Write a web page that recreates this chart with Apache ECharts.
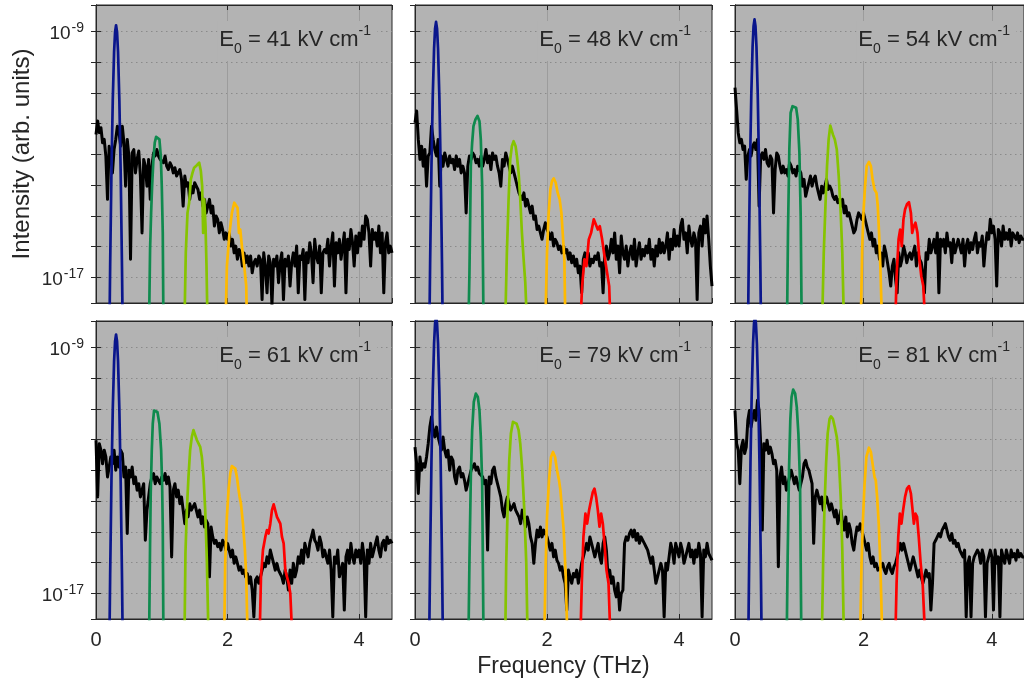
<!DOCTYPE html>
<html>
<head>
<meta charset="utf-8">
<script src="https://cdn.jsdelivr.net/npm/echarts@6/dist/echarts.min.js"></script>
<style>html,body{margin:0;padding:0;background:#fff}#chart{width:1024px;height:690px}</style>
</head>
<body>
<div id="chart"></div>
<script>
// ---------------- data (intensities stored as log10 values) ----------------
const FIELD_LABELS = ['41', '48', '54', '61', '79', '81'];
const X_TICKS = [0, 2, 4];
const Y_TICK_EXPONENTS = [-9, -17];
const FREQ_STEP = 0.025;           // THz, black spectra sampled from 0 to 4.5 THz
const LOG_MIN = -17.83, LOG_MAX = -8.14;

const BLACK_41 = [
-12.35,-11.91,-12.29,-12.13,-12.62,-12.51,-13.06,-14.46,-12.73,-13.06,
-13.6,-12.84,-12.51,-12.08,-12.3,-12.73,-12.08,-12.62,-14.03,-12.51,
-13.05,-16.41,-12.95,-12.84,-13.6,-13.16,-12.89,-13.7,-15.55,-13.16,
-13.38,-14.03,-13.16,-14.46,-13.38,-12.95,-13.05,-12.84,-13.05,-13.16,
-13.16,-13.27,-13.05,-13.38,-13.49,-13.27,-13.38,-13.6,-13.43,-13.7,
-13.6,-13.49,-13.81,-14.68,-13.7,-14.03,-13.92,-14.46,-14.03,-14.25,
-13.92,-14.03,-14.14,-14.46,-14.25,-14.68,-14.46,-14.9,-14.68,-14.46,
-14.9,-14.68,-15.33,-15.0,-15.11,-15.55,-15.22,-15.44,-15.76,-15.55,
-15.76,-15.55,-15.98,-15.76,-16.2,-15.98,-16.41,-16.09,-16.2,-16.63,
-16.2,-16.52,-16.3,-16.63,-16.3,-16.85,-16.52,-16.41,-16.63,-16.3,
-16.41,-17.72,-16.2,-16.63,-17.5,-16.3,-16.52,-17.9,-16.41,-16.63,
-16.3,-17.17,-16.52,-16.2,-17.72,-16.41,-16.63,-16.3,-17.28,-16.52,
-16.2,-16.63,-15.98,-17.5,-16.3,-16.41,-16.09,-17.72,-16.2,-16.52,
-15.87,-16.2,-17.17,-15.76,-16.3,-16.52,-15.98,-17.5,-16.2,-16.09,
-16.2,-15.76,-16.63,-15.98,-15.55,-17.28,-15.87,-16.2,-15.76,-16.41,
-15.98,-15.55,-17.5,-15.76,-16.09,-15.44,-15.87,-16.63,-15.65,-16.2,
-15.55,-15.98,-15.33,-15.76,-15.0,-15.11,-15.55,-16.63,-15.44,-15.76,
-15.55,-15.98,-15.33,-16.2,-15.55,-17.5,-15.87,-15.55,-16.2,-15.98,
-16.2];
const BLACK_48 = [
-11.97,-11.59,-12.51,-13.16,-12.73,-13.38,-12.84,-14.03,-13.05,-12.95,
-12.08,-12.51,-12.84,-13.05,-12.51,-14.03,-13.05,-13.38,-12.95,-13.16,
-13.38,-13.05,-13.27,-13.16,-13.49,-13.05,-13.38,-13.16,-13.6,-13.38,
-13.6,-14.9,-13.38,-13.05,-13.16,-12.95,-13.05,-13.27,-13.16,-13.38,
-13.05,-13.38,-13.16,-12.84,-13.27,-13.05,-13.49,-12.95,-13.16,-13.05,
-13.38,-13.6,-14.03,-13.16,-13.38,-12.95,-13.16,-13.38,-13.6,-13.38,
-13.6,-13.81,-14.03,-14.25,-14.36,-14.46,-14.25,-14.68,-14.46,-14.68,
-14.9,-14.68,-15.11,-15.0,-15.44,-15.33,-15.55,-15.76,-15.44,-15.22,
-15.44,-15.55,-15.76,-15.55,-15.98,-15.76,-15.87,-16.09,-15.98,-16.2,
-15.98,-16.2,-16.09,-16.41,-16.2,-16.52,-16.3,-16.63,-16.41,-16.85,
-16.63,-17.5,-16.41,-16.2,-16.52,-16.2,-16.63,-16.41,-16.52,-16.3,
-16.41,-16.2,-16.63,-16.52,-17.5,-16.2,-15.98,-16.41,-16.2,-15.76,
-16.2,-15.55,-16.41,-15.98,-16.85,-15.65,-16.2,-16.41,-15.98,-16.63,
-16.2,-15.98,-16.41,-15.76,-16.63,-16.2,-15.87,-16.41,-16.09,-16.3,
-15.98,-16.2,-15.76,-16.41,-16.09,-16.63,-15.98,-16.3,-15.76,-16.2,
-15.87,-16.2,-15.98,-15.55,-16.41,-15.76,-16.09,-15.44,-15.98,-15.65,
-15.98,-15.33,-15.11,-15.76,-15.55,-16.2,-15.33,-15.76,-15.98,-15.55,
-15.76,-17.72,-15.55,-15.33,-15.98,-15.11,-15.55,-15.0,-15.76,-16.63,
-17.28];
const BLACK_54 = [
-10.83,-11.54,-12.3,-12.62,-12.51,-12.84,-12.73,-13.81,-13.05,-12.84,
-13.05,-12.73,-12.62,-12.84,-12.51,-14.68,-13.05,-12.95,-13.16,-12.84,
-13.27,-13.38,-13.05,-13.16,-14.9,-13.49,-12.95,-13.05,-13.38,-13.6,
-13.38,-13.6,-13.49,-13.7,-13.27,-13.38,-13.6,-13.49,-13.7,-13.38,
-13.49,-13.6,-14.03,-13.81,-14.36,-14.14,-13.92,-13.7,-14.03,-13.81,
-13.7,-14.03,-14.25,-14.46,-14.03,-14.25,-14.03,-13.81,-14.14,-14.03,
-14.14,-14.36,-14.46,-14.36,-14.57,-14.46,-14.68,-14.46,-14.9,-14.68,
-15.0,-14.9,-15.11,-15.33,-15.55,-15.44,-15.11,-14.9,-15.0,-15.11,
-14.9,-15.11,-15.33,-15.55,-15.76,-15.55,-15.98,-15.76,-16.2,-15.98,
-16.41,-16.2,-16.63,-15.98,-16.2,-16.52,-16.85,-17.28,-16.63,-16.41,
-17.06,-17.5,-16.2,-16.63,-16.41,-15.98,-16.2,-16.52,-16.3,-16.2,
-16.41,-16.2,-15.98,-16.63,-16.2,-16.41,-16.52,-16.85,-17.5,-16.2,
-16.41,-15.76,-16.2,-15.98,-15.76,-16.2,-15.55,-17.5,-15.76,-15.98,
-15.76,-16.2,-15.55,-15.98,-15.87,-16.52,-15.76,-16.2,-15.98,-15.76,
-15.98,-16.2,-15.76,-16.63,-15.98,-15.76,-16.2,-15.87,-16.09,-15.76,
-15.55,-16.2,-15.87,-15.98,-15.65,-16.63,-15.98,-15.55,-15.76,-15.11,
-15.55,-15.33,-15.76,-17.28,-15.44,-15.55,-15.98,-15.33,-15.76,-15.55,
-15.76,-15.44,-15.98,-15.55,-15.65,-15.76,-15.55,-15.87,-15.65,-15.76,
-15.76];
const BLACK_61 = [
-12.02,-13.86,-12.13,-12.34,-12.78,-12.34,-12.56,-13.21,-12.89,-12.56,
-12.78,-12.34,-12.99,-12.56,-12.89,-12.34,-12.45,-13.21,-12.89,-15.05,
-12.99,-13.21,-12.89,-13.43,-13.21,-13.64,-13.43,-13.86,-13.64,-13.43,
-15.27,-14.29,-13.86,-13.43,-13.21,-13.1,-13.43,-13.21,-13.32,-13.43,
-13.21,-13.32,-13.1,-13.43,-13.21,-13.53,-15.81,-13.64,-13.43,-13.86,
-13.64,-14.08,-13.86,-14.29,-14.73,-14.29,-14.51,-14.08,-14.29,-14.29,
-14.08,-14.29,-14.51,-14.29,-14.73,-14.51,-14.84,-14.62,-14.73,-16.46,
-14.84,-15.16,-15.37,-15.27,-15.48,-15.37,-15.59,-15.27,-15.37,-15.59,
-15.37,-15.59,-15.81,-15.59,-16.02,-15.81,-16.02,-16.24,-16.13,-16.35,
-16.24,-16.46,-16.35,-16.67,-16.46,-16.89,-17.76,-16.56,-16.46,-16.67,
-16.46,-16.24,-16.02,-16.13,-15.81,-16.02,-15.59,-15.81,-16.02,-16.24,
-16.02,-16.24,-16.35,-16.46,-16.67,-16.24,-16.46,-16.89,-16.24,-16.67,
-16.02,-16.46,-16.24,-15.81,-16.02,-15.59,-16.02,-15.37,-15.59,-15.81,
-15.37,-15.16,-14.94,-15.27,-15.37,-15.59,-15.16,-15.37,-15.81,-15.59,
-15.81,-16.02,-15.59,-16.24,-17.76,-15.81,-16.02,-15.59,-16.46,-16.24,
-16.02,-17.54,-15.81,-15.59,-16.02,-15.37,-15.81,-16.02,-15.59,-15.81,
-15.59,-16.02,-15.37,-15.81,-17.76,-15.59,-16.02,-15.37,-15.81,-15.59,
-15.37,-15.16,-15.59,-15.81,-15.37,-15.27,-15.59,-15.16,-15.37,-15.27,
-15.37];
const BLACK_79 = [
-12.24,-12.78,-13.75,-12.56,-12.99,-12.78,-12.89,-12.56,-12.13,-11.59,
-11.26,-11.69,-11.91,-11.59,-11.91,-12.13,-12.34,-11.91,-12.34,-12.56,
-12.34,-12.99,-12.56,-12.67,-13.21,-13.43,-12.99,-12.89,-13.21,-13.1,
-13.32,-13.64,-13.43,-13.21,-12.99,-12.89,-12.78,-12.99,-12.89,-13.1,
-13.1,-13.21,-13.43,-13.32,-15.59,-13.21,-13.43,-12.99,-12.89,-13.21,
-13.43,-13.64,-13.86,-14.29,-14.51,-14.08,-13.86,-14.08,-14.29,-14.19,
-14.08,-14.29,-14.4,-14.51,-14.73,-14.29,-14.51,-14.84,-14.51,-14.73,
-15.16,-15.37,-16.02,-15.37,-14.94,-15.16,-14.84,-15.16,-14.94,-15.05,
-15.16,-15.37,-15.59,-15.37,-15.81,-15.59,-15.92,-16.02,-16.24,-16.13,
-16.46,-16.67,-17.54,-16.24,-16.46,-16.67,-16.35,-16.46,-16.24,-16.67,
-16.35,-16.02,-15.81,-15.59,-15.37,-15.59,-15.16,-15.37,-15.59,-15.81,
-15.59,-15.37,-15.81,-16.02,-15.37,-15.16,-15.59,-16.46,-16.24,-16.67,
-16.46,-16.89,-17.11,-16.67,-17.54,-17.0,-16.89,-15.37,-15.16,-15.27,
-15.05,-14.94,-15.16,-14.94,-15.27,-15.05,-15.37,-15.16,-15.27,-15.37,
-15.48,-15.59,-15.81,-16.02,-15.81,-16.24,-16.67,-16.46,-16.24,-16.02,
-16.24,-17.76,-16.02,-16.24,-15.81,-15.37,-15.59,-16.02,-15.37,-15.59,
-15.81,-15.37,-15.59,-16.02,-15.81,-15.59,-15.37,-15.81,-15.59,-16.02,
-15.59,-15.81,-15.37,-15.7,-17.76,-15.59,-15.81,-15.37,-15.7,-15.81,
-15.92];
const BLACK_81 = [
-11.05,-12.13,-12.34,-13.43,-12.24,-12.02,-12.45,-12.24,-11.37,-11.05,
-11.59,-11.26,-11.05,-11.37,-10.72,-11.05,-12.13,-14.94,-12.13,-12.34,
-12.02,-12.45,-12.24,-12.45,-12.78,-12.67,-12.99,-16.13,-13.21,-12.89,
-13.43,-13.21,-13.64,-13.43,-13.21,-12.99,-13.21,-13.43,-13.21,-13.43,
-13.64,-13.43,-13.21,-12.78,-12.67,-12.89,-12.99,-13.21,-13.43,-15.37,
-13.86,-13.64,-13.86,-14.08,-13.86,-14.29,-14.08,-13.86,-14.08,-14.29,
-14.08,-14.29,-14.51,-14.29,-14.73,-14.51,-14.29,-14.73,-14.94,-14.51,
-15.16,-14.73,-14.94,-15.37,-15.59,-15.16,-14.84,-14.94,-14.73,-14.94,
-15.16,-15.37,-15.59,-15.37,-15.81,-16.02,-15.81,-16.13,-16.02,-16.24,
-16.24,-16.13,-16.02,-16.24,-16.35,-16.13,-16.02,-16.24,-16.35,-16.13,
-16.02,-15.81,-15.59,-15.37,-15.59,-15.37,-15.59,-15.81,-16.02,-16.24,
-16.02,-15.81,-16.02,-16.24,-16.46,-16.24,-16.46,-16.67,-16.46,-16.24,
-16.46,-16.35,-17.54,-16.67,-15.37,-15.27,-15.16,-15.05,-15.16,-14.94,
-14.84,-14.73,-14.94,-15.16,-15.27,-15.05,-15.37,-15.27,-15.48,-15.37,
-15.59,-15.7,-15.81,-15.59,-17.76,-16.02,-15.81,-17.76,-16.02,-15.81,
-15.81,-15.59,-15.7,-16.02,-15.59,-15.81,-17.76,-16.02,-15.81,-15.59,
-15.81,-17.54,-15.59,-16.02,-15.81,-17.76,-15.59,-15.81,-16.02,-15.59,
-15.81,-16.02,-15.59,-15.81,-15.7,-15.92,-15.59,-15.81,-15.7,-15.81,
-15.81];

// filtered harmonic peaks: [frequency (THz), log10 intensity]
const BLUE_41 = [[0.195,-20.5],[0.215,-16.66],[0.235,-13.55],[0.255,-11.23],[0.275,-9.67],[0.29,-9.02],[0.305,-8.8],[0.32,-9.02],[0.335,-9.67],[0.355,-11.23],[0.375,-13.55],[0.395,-16.66],[0.415,-20.5]];
const GREEN_41 = [[0.807,-18.5],[0.822,-16.09],[0.838,-14.9],[0.853,-14.03],[0.873,-13.16],[0.893,-12.62],[0.914,-12.43],[0.939,-12.38],[0.964,-12.51],[0.985,-13.05],[1.0,-14.03],[1.015,-15.55],[1.025,-18.5]];
const LIME_41 = [[1.345,-18.5],[1.365,-16.2],[1.391,-14.9],[1.416,-14.57],[1.442,-13.81],[1.467,-13.6],[1.492,-13.43],[1.533,-13.35],[1.569,-13.27],[1.594,-13.54],[1.614,-14.03],[1.629,-15.55],[1.645,-14.46],[1.665,-15.33],[1.68,-16.63],[1.695,-18.5]];
const ORANGE_41 = [[1.97,-18.5],[1.99,-16.63],[2.03,-15.55],[2.066,-14.9],[2.102,-14.57],[2.122,-14.52],[2.152,-14.73],[2.173,-15.55],[2.193,-15.44],[2.218,-15.98],[2.254,-16.63],[2.284,-17.28],[2.294,-18.5]];
const RED_41 = [];

const BLUE_48 = [[0.209,-20.39],[0.229,-16.55],[0.249,-13.44],[0.269,-11.12],[0.289,-9.56],[0.304,-8.91],[0.319,-8.69],[0.334,-8.91],[0.349,-9.56],[0.369,-11.12],[0.389,-13.44],[0.409,-16.55],[0.429,-20.39]];
const GREEN_48 = [[0.81,-18.5],[0.825,-16.85],[0.846,-13.38],[0.866,-12.62],[0.886,-12.08],[0.916,-11.86],[0.947,-11.75],[0.977,-11.92],[0.997,-12.51],[1.018,-14.03],[1.038,-18.5]];
const LIME_48 = [[1.367,-18.5],[1.392,-16.2],[1.418,-14.46],[1.443,-13.16],[1.468,-12.73],[1.494,-12.57],[1.524,-12.73],[1.544,-13.05],[1.57,-13.6],[1.595,-14.46],[1.62,-15.55],[1.646,-16.41],[1.671,-17.17],[1.696,-18.5]];
const ORANGE_48 = [[1.975,-18.5],[2.0,-16.2],[2.025,-14.9],[2.051,-14.14],[2.076,-13.86],[2.101,-13.78],[2.132,-13.92],[2.162,-14.25],[2.192,-14.46],[2.218,-14.9],[2.238,-15.55],[2.263,-16.41],[2.278,-18.5]];
const RED_48 = [[2.506,-18.5],[2.532,-17.28],[2.567,-16.41],[2.597,-16.63],[2.633,-15.76],[2.668,-15.55],[2.709,-15.11],[2.734,-15.06],[2.77,-15.44],[2.8,-15.33],[2.835,-15.76],[2.871,-16.3],[2.911,-16.85],[2.942,-17.28],[2.962,-18.5]];

const BLUE_54 = [[0.194,-20.31],[0.214,-16.47],[0.234,-13.36],[0.254,-11.04],[0.274,-9.48],[0.289,-8.83],[0.304,-8.61],[0.319,-8.83],[0.334,-9.48],[0.354,-11.04],[0.374,-13.36],[0.394,-16.47],[0.414,-20.31]];
const GREEN_54 = [[0.81,-18.5],[0.825,-15.55],[0.846,-12.84],[0.866,-11.65],[0.896,-11.43],[0.922,-11.37],[0.952,-11.48],[0.977,-11.86],[1.003,-12.95],[1.023,-15.0],[1.038,-18.5]];
const LIME_54 = [[1.357,-18.5],[1.382,-16.2],[1.408,-14.68],[1.433,-13.38],[1.458,-12.51],[1.484,-12.06],[1.504,-12.08],[1.524,-12.35],[1.554,-12.51],[1.585,-12.84],[1.615,-13.7],[1.646,-14.9],[1.671,-16.2],[1.696,-18.5]];
const ORANGE_54 = [[1.959,-18.5],[1.98,-16.09],[2.0,-14.9],[2.025,-14.03],[2.051,-13.38],[2.086,-13.24],[2.116,-13.38],[2.142,-13.81],[2.172,-14.14],[2.203,-14.25],[2.223,-14.68],[2.243,-15.55],[2.263,-16.63],[2.289,-18.5]];
const RED_54 = [[2.496,-18.5],[2.516,-16.96],[2.547,-15.76],[2.572,-15.44],[2.597,-15.98],[2.623,-15.11],[2.648,-14.79],[2.678,-14.62],[2.709,-14.55],[2.739,-14.9],[2.759,-15.55],[2.785,-15.33],[2.81,-15.22],[2.841,-15.55],[2.871,-16.41],[2.901,-16.96],[2.932,-17.28],[2.962,-18.5]];

const BLUE_61 = [[0.195,-20.28],[0.215,-16.44],[0.235,-13.33],[0.255,-11.01],[0.275,-9.45],[0.29,-8.8],[0.305,-8.58],[0.32,-8.8],[0.335,-9.45],[0.355,-11.01],[0.375,-13.33],[0.395,-16.44],[0.415,-20.28]];
const GREEN_61 = [[0.807,-18.5],[0.822,-15.37],[0.832,-13.75],[0.848,-12.34],[0.863,-11.48],[0.883,-11.05],[0.904,-10.99],[0.934,-11.1],[0.964,-11.48],[0.99,-12.34],[1.005,-13.43],[1.015,-14.83],[1.025,-18.5]];
const LIME_61 = [[1.345,-18.5],[1.36,-15.69],[1.381,-14.29],[1.406,-13.21],[1.431,-12.34],[1.457,-11.91],[1.482,-11.69],[1.508,-11.74],[1.533,-12.01],[1.558,-12.12],[1.584,-12.23],[1.609,-12.56],[1.635,-13.21],[1.66,-14.29],[1.685,-15.91],[1.711,-18.5]];
const ORANGE_61 = [[1.949,-18.5],[1.964,-16.02],[1.99,-14.51],[2.015,-13.64],[2.041,-13.1],[2.066,-12.86],[2.091,-12.83],[2.117,-12.94],[2.142,-13.21],[2.168,-13.64],[2.183,-13.86],[2.203,-14.07],[2.234,-14.72],[2.264,-15.59],[2.284,-16.46],[2.305,-18.5]];
const RED_61 = [[2.487,-18.5],[2.508,-16.46],[2.538,-15.59],[2.574,-15.16],[2.599,-14.94],[2.624,-15.05],[2.65,-14.73],[2.675,-14.29],[2.701,-14.1],[2.726,-14.13],[2.751,-14.51],[2.777,-14.56],[2.802,-14.73],[2.827,-15.16],[2.853,-15.37],[2.878,-16.24],[2.904,-16.46],[2.929,-16.67],[2.954,-17.0],[2.985,-18.5]];

const BLUE_79 = [[0.209,-19.7],[0.229,-15.86],[0.249,-12.75],[0.269,-10.43],[0.289,-8.87],[0.304,-8.22],[0.319,-8.0],[0.334,-8.22],[0.349,-8.87],[0.369,-10.43],[0.389,-12.75],[0.409,-15.86],[0.429,-19.7]];
const GREEN_79 = [[0.81,-18.5],[0.825,-15.92],[0.846,-13.21],[0.866,-11.69],[0.891,-10.77],[0.922,-10.5],[0.952,-10.61],[0.977,-11.05],[0.997,-11.91],[1.018,-13.43],[1.038,-18.5]];
const LIME_79 = [[1.367,-18.5],[1.382,-16.02],[1.403,-14.29],[1.428,-12.67],[1.453,-11.8],[1.484,-11.42],[1.509,-11.37],[1.539,-11.48],[1.57,-11.69],[1.595,-12.13],[1.625,-12.99],[1.656,-14.29],[1.686,-16.02],[1.706,-18.5]];
const ORANGE_79 = [[1.959,-18.5],[1.98,-16.02],[2.0,-14.51],[2.03,-13.32],[2.061,-12.56],[2.091,-12.4],[2.122,-12.56],[2.152,-12.99],[2.182,-13.32],[2.203,-13.64],[2.223,-14.18],[2.253,-14.94],[2.284,-16.46],[2.309,-18.5]];
const RED_79 = [[2.506,-18.5],[2.527,-16.67],[2.552,-15.16],[2.582,-14.4],[2.608,-14.73],[2.638,-14.29],[2.668,-13.97],[2.694,-13.7],[2.719,-13.59],[2.744,-13.86],[2.77,-14.29],[2.795,-14.83],[2.82,-14.4],[2.846,-14.73],[2.871,-15.37],[2.901,-16.24],[2.932,-16.67],[2.962,-18.5]];

const BLUE_81 = [[0.201,-19.7],[0.221,-15.86],[0.241,-12.75],[0.261,-10.43],[0.281,-8.87],[0.296,-8.22],[0.311,-8.0],[0.326,-8.22],[0.341,-8.87],[0.361,-10.43],[0.381,-12.75],[0.401,-15.86],[0.421,-19.7]];
const GREEN_81 = [[0.805,-18.5],[0.82,-15.81],[0.841,-12.99],[0.861,-11.37],[0.881,-10.61],[0.906,-10.37],[0.937,-10.5],[0.962,-10.94],[0.987,-11.8],[1.013,-13.43],[1.033,-18.5]];
const LIME_81 = [[1.352,-18.5],[1.372,-16.02],[1.392,-14.29],[1.418,-12.78],[1.443,-11.8],[1.473,-11.32],[1.494,-11.24],[1.524,-11.32],[1.554,-11.59],[1.585,-11.91],[1.615,-12.56],[1.646,-13.86],[1.671,-15.59],[1.696,-18.5]];
const ORANGE_81 = [[1.949,-18.5],[1.97,-16.02],[1.99,-14.73],[2.015,-13.53],[2.046,-12.56],[2.086,-12.26],[2.116,-12.4],[2.142,-12.78],[2.172,-13.21],[2.192,-13.32],[2.213,-13.86],[2.238,-14.73],[2.263,-16.02],[2.294,-18.5]];
const RED_81 = [[2.496,-18.5],[2.516,-16.67],[2.542,-15.16],[2.567,-14.4],[2.592,-14.73],[2.618,-14.29],[2.648,-13.86],[2.678,-13.59],[2.709,-13.51],[2.739,-13.75],[2.765,-14.29],[2.785,-14.73],[2.81,-14.4],[2.835,-14.51],[2.861,-15.16],[2.891,-16.02],[2.922,-16.67],[2.962,-18.5]];

// ---------------- styling / layout ----------------
const PEAK_COLORS = ['#0a168c', '#0f8a4e', '#86c400', '#ffba00', '#ff0000'];
const FONT = '"Liberation Sans", Arial, Helvetica, sans-serif';
const TXT = '#262626';
const BG = '#b3b3b3';
const GRID_BOXES = [
  {left: 96, top: 5, width: 296}, {left: 415, top: 5, width: 297}, {left: 735, top: 5, width: 296},
  {left: 96, top: 321, width: 296}, {left: 415, top: 321, width: 297}, {left: 735, top: 321, width: 296}
];
const GRID_H = 298;

const PANELS = [
  {field: FIELD_LABELS[0], black: BLACK_41, peaks: [BLUE_41, GREEN_41, LIME_41, ORANGE_41, RED_41]},
  {field: FIELD_LABELS[1], black: BLACK_48, peaks: [BLUE_48, GREEN_48, LIME_48, ORANGE_48, RED_48]},
  {field: FIELD_LABELS[2], black: BLACK_54, peaks: [BLUE_54, GREEN_54, LIME_54, ORANGE_54, RED_54]},
  {field: FIELD_LABELS[3], black: BLACK_61, peaks: [BLUE_61, GREEN_61, LIME_61, ORANGE_61, RED_61]},
  {field: FIELD_LABELS[4], black: BLACK_79, peaks: [BLUE_79, GREEN_79, LIME_79, ORANGE_79, RED_79]},
  {field: FIELD_LABELS[5], black: BLACK_81, peaks: [BLUE_81, GREEN_81, LIME_81, ORANGE_81, RED_81]}
];

const grid = [], xAxis = [], yAxis = [], series = [], title = [];
const yMin = Math.pow(10, LOG_MIN), yMax = Math.pow(10, LOG_MAX);

PANELS.forEach((p, i) => {
  const row = Math.floor(i / 3), col = i % 3;
  const g = GRID_BOXES[i];
  grid.push({left: g.left, top: g.top, width: g.width, height: GRID_H, show: true,
    backgroundColor: BG, borderColor: TXT, borderWidth: 1, containLabel: false});

  const tick = {show: true, inside: true, length: 5, lineStyle: {color: TXT, width: 1}};
  const axLine = {show: true, lineStyle: {color: TXT, width: 1}};
  xAxis.push({
    gridIndex: i, type: 'value', position: 'bottom', min: 0, max: 4.5, interval: 2,
    axisLine: axLine, axisTick: tick,
    axisLabel: {show: row === 1, fontSize: 20, fontWeight: 'normal', color: TXT, fontFamily: FONT, margin: 11,
      showMaxLabel: false, formatter: v => X_TICKS.indexOf(v) >= 0 ? String(v) : ''},
    splitLine: {show: true, showMinLine: false, showMaxLine: false, lineStyle: {color: '#9c9c9c', width: 1, type: 'solid'}},
    name: i === 4 ? 'Frequency (THz)' : '', nameLocation: 'middle', nameGap: 36,
    nameTextStyle: {fontSize: 23, fontWeight: 'normal', color: TXT, fontFamily: FONT}
  });
  xAxis.push({
    gridIndex: i, type: 'value', position: 'top', min: 0, max: 4.5, interval: 2,
    axisLine: axLine, axisTick: tick, axisLabel: {show: false}, splitLine: {show: false}
  });
  yAxis.push({
    gridIndex: i, type: 'log', logBase: 10, position: 'left', min: yMin, max: yMax,
    axisLine: axLine, axisTick: tick,
    axisLabel: {
      show: col === 0, margin: 9, padding: [4, 0, 0, 0], fontSize: 19, color: TXT, fontFamily: FONT,
      showMinLabel: false, showMaxLabel: false,
      formatter: v => {
        const n = Math.round(Math.log10(v));
        return Y_TICK_EXPONENTS.indexOf(n) >= 0 ? '{b|10}{s|' + n + '}' : '';
      },
      rich: {
        b: {fontSize: 19, lineHeight: 19, verticalAlign: 'bottom', fontWeight: 'normal', color: TXT, fontFamily: FONT},
        s: {fontSize: 14, lineHeight: 14, padding: [0, 3, 11, 1], fontWeight: 'normal', color: TXT, fontFamily: FONT}
      }
    },
    splitLine: {show: true, showMinLine: false, showMaxLine: false,
      lineStyle: {color: '#8a8a8a', width: 1, type: [1.5, 3.5]}},
    name: i === 0 ? 'Intensity (arb. units)' : '', nameLocation: 'middle', nameGap: 62,
    nameTextStyle: {fontSize: 24, fontWeight: 'normal', color: TXT, fontFamily: FONT}
  });
  yAxis.push({
    gridIndex: i, type: 'log', logBase: 10, position: 'right', min: yMin, max: yMax,
    axisLine: axLine, axisTick: tick, axisLabel: {show: false}, splitLine: {show: false}
  });

  series.push({
    type: 'line', xAxisIndex: 2 * i, yAxisIndex: 2 * i, z: 3,
    data: p.black.map((e, k) => [k * FREQ_STEP, Math.pow(10, e)]),
    symbol: 'none', showSymbol: false,
    lineStyle: {color: '#000', width: 3, join: 'round'},
    markLine: {
      silent: true, z: 1, symbol: ['none', 'none'], label: {show: false}, animation: false,
      lineStyle: {color: '#9c9c9c', width: 1, type: 'solid'},
      data: Y_TICK_EXPONENTS.map(n => ({yAxis: Math.pow(10, n)}))
    }
  });
  p.peaks.forEach((pk, j) => {
    if (!pk.length) return;
    series.push({
      type: 'line', xAxisIndex: 2 * i, yAxisIndex: 2 * i, z: 4,
      data: pk.map(([f, e]) => [f, Math.pow(10, e)]),
      symbol: 'none', showSymbol: false,
      lineStyle: {color: PEAK_COLORS[j], width: 2.7, join: 'round'}
    });
  });

  title.push({
    text: '{e|E}{s|0}{e| = ' + p.field + ' kV cm}{p|-1}',
    right: 1024 - (g.left + g.width - 15), top: g.top + 19,
    padding: [3, 6, 5, 2], backgroundColor: BG,
    textStyle: {
      fontWeight: 'normal', fontSize: 22, color: TXT, fontFamily: FONT,
      rich: {
        e: {fontSize: 22, lineHeight: 26, fontWeight: 'normal', color: TXT, fontFamily: FONT},
        s: {fontSize: 14, lineHeight: 14, padding: [18, 0, 0, 0], fontWeight: 'normal', color: TXT, fontFamily: FONT},
        p: {fontSize: 14, lineHeight: 14, padding: [0, 0, 18, 0], fontWeight: 'normal', color: TXT, fontFamily: FONT}
      }
    }
  });
});

const chart = echarts.init(document.getElementById('chart'), null, {renderer: 'canvas', width: 1024, height: 690});
chart.setOption({
  animation: false,
  backgroundColor: '#ffffff',
  title, grid, xAxis, yAxis, series
});
</script>
</body>
</html>
